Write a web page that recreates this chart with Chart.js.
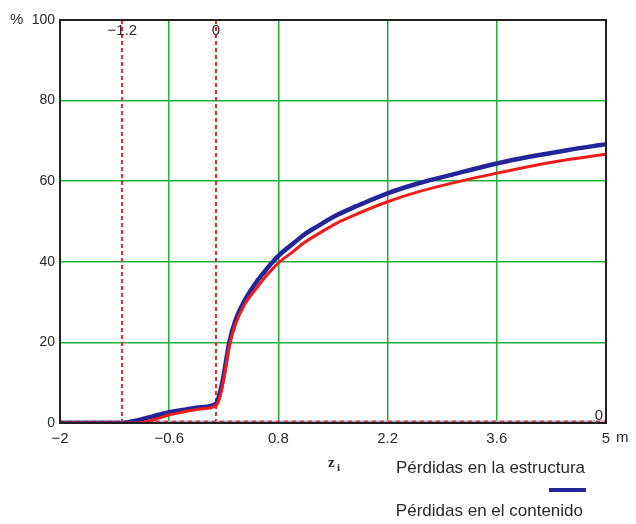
<!DOCTYPE html>
<html>
<head>
<meta charset="utf-8">
<script src="https://cdn.jsdelivr.net/npm/chart.js@4.4.1/dist/chart.umd.min.js"></script>
<style>
  html, body { margin: 0; padding: 0; background: #ffffff; }
  canvas { display: block; }
</style>
</head>
<body>
<canvas id="chart" width="636" height="524"></canvas>
<script>
// Depth z_i (m) and percentage losses
const zValues        = [-2, -1.2, -1.1, -1.0, -0.9, -0.8, -0.6, -0.4, -0.2, 0.0, 0.05, 0.1, 0.17, 0.25, 0.37, 0.5, 0.6, 0.7, 0.8, 1.0, 1.12, 1.3, 1.55, 1.8, 2.2, 2.6, 3.0, 3.6, 4.0, 4.5, 5.0];
const lossStructure  = [0, 0, 0.3, 0.7, 1.2, 1.7, 2.7, 3.3, 3.9, 4.8, 7.5, 12, 20, 25.5, 30.5, 34.5, 37, 39.4, 41.5, 44.7, 46.6, 48.8, 51.6, 53.8, 57.0, 59.5, 61.5, 64.4, 66.0, 67.7, 69.2];
const lossContents   = [0, 0, 0, 0, 0.3, 0.8, 2.0, 2.8, 3.5, 4.3, 6.5, 11, 19, 24.5, 29.5, 33, 35.5, 37.7, 39.7, 42.7, 44.6, 46.8, 49.6, 51.8, 54.9, 57.4, 59.4, 62.0, 63.6, 65.3, 66.7];

const xTickValues = [-2, -0.6, 0.8, 2.2, 3.6, 5];
const yTickValues = [0, 20, 40, 60, 80, 100];

// Reference markers
const markerX = [-1.2, 0];
const markerXLabels = ['\u22121.2', '0'];
const markerY = [0];
const markerYLabels = ['0'];

const seriesNames = ['Pérdidas en la estructura', 'Pérdidas en el contenido'];
const seriesColors = ['#25259a', '#f01c1c'];

const GREEN = '#1fb03a';
const TEXT = '#2a2a2a';
const SANS = '"Liberation Sans", Arial, sans-serif';

function fmt(v) {
  const s = String(Math.round(v * 10) / 10);
  return v < 0 ? '\u2212' + s.slice(1) : s;
}

const toPoints = (ys) => zValues.map((x, i) => ({ x: x, y: ys[i] }));

const decorations = {
  id: 'decorations',
  beforeDatasetsDraw(chart) {
    const { ctx, chartArea: a, scales: { x, y } } = chart;
    ctx.save();
    // vertical dashed markers
    ctx.strokeStyle = '#ee2a2a';
    ctx.lineWidth = 2;
    ctx.setLineDash([4, 3]);
    markerX.forEach((v) => {
      const px = Math.round(x.getPixelForValue(v));
      ctx.beginPath();
      ctx.moveTo(px, a.top);
      ctx.lineTo(px, a.bottom);
      ctx.stroke();
    });
    // horizontal dashed marker
    markerY.forEach((v) => {
      const py = y.getPixelForValue(v) - 1.5;
      ctx.lineWidth = 2;
      ctx.setLineDash([4, 4]);
      ctx.strokeStyle = '#9ab4dc';
      ctx.lineDashOffset = 4;
      ctx.beginPath();
      ctx.moveTo(a.left, py);
      ctx.lineTo(a.right, py);
      ctx.stroke();
      ctx.strokeStyle = '#e83030';
      ctx.lineDashOffset = 0;
      ctx.beginPath();
      ctx.moveTo(a.left, py);
      ctx.lineTo(a.right, py);
      ctx.stroke();
    });
    ctx.restore();
  },
  afterDraw(chart) {
    const { ctx, chartArea: a, scales: { x, y } } = chart;
    ctx.save();
    // frame
    ctx.strokeStyle = '#222222';
    ctx.lineWidth = 2;
    ctx.setLineDash([]);
    ctx.strokeRect(a.left, a.top, a.right - a.left, a.bottom - a.top);

    ctx.fillStyle = TEXT;
    ctx.textBaseline = 'middle';
    // marker labels
    ctx.font = '15px ' + SANS;
    ctx.textAlign = 'center';
    markerX.forEach((v, i) => {
      ctx.fillText(markerXLabels[i], x.getPixelForValue(v), a.top + 11);
    });
    ctx.textAlign = 'right';
    markerY.forEach((v, i) => {
      ctx.fillText(markerYLabels[i], a.right - 3, y.getPixelForValue(v) - 7);
    });

    // unit labels
    ctx.textAlign = 'left';
    ctx.font = '15px ' + SANS;
    ctx.fillText('%', 10, a.top);
    ctx.fillText('m', a.right + 10, 438);

    // axis variable z_i
    ctx.font = 'bold 15px "Liberation Serif", "Times New Roman", serif';
    ctx.fillText('z', 328, 463);
    ctx.font = 'bold 11px "Liberation Serif", "Times New Roman", serif';
    ctx.fillText('i', 337, 468);

    // legend
    ctx.font = '17px ' + SANS;
    ctx.textAlign = 'right';
    ctx.fillText(seriesNames[0], 585, 468);
    ctx.fillText(seriesNames[1], 583, 511);
    ctx.strokeStyle = seriesColors[0];
    ctx.lineWidth = 4;
    ctx.beginPath();
    ctx.moveTo(549, 490);
    ctx.lineTo(586, 490);
    ctx.stroke();
    ctx.restore();
  }
};

new Chart(document.getElementById('chart'), {
  type: 'scatter',
  data: {
    datasets: [
      {
        label: seriesNames[0],
        data: toPoints(lossStructure),
        showLine: true,
        borderColor: seriesColors[0],
        borderWidth: 4.5,
        pointRadius: 0,
        cubicInterpolationMode: 'monotone',
        order: 1
      },
      {
        label: seriesNames[1],
        data: toPoints(lossContents),
        showLine: true,
        borderColor: seriesColors[1],
        borderWidth: 3,
        pointRadius: 0,
        cubicInterpolationMode: 'monotone',
        order: 0
      }
    ]
  },
  options: {
    responsive: false,
    animation: false,
    devicePixelRatio: 1,
    layout: { padding: { left: 0, right: 30, top: 20, bottom: 71 } },
    plugins: { legend: { display: false }, tooltip: { enabled: false } },
    scales: {
      x: {
        type: 'linear',
        min: -2,
        max: 5,
        afterBuildTicks(scale) { scale.ticks = xTickValues.map((v) => ({ value: v })); },
        afterFit(scale) { scale.height = 30; },
        ticks: {
          color: TEXT,
          padding: 7,
          maxRotation: 0,
          font: { family: SANS, size: 15 },
          callback: (v) => fmt(v)
        },
        grid: { color: GREEN, lineWidth: 1.5, drawTicks: false },
        border: { display: false }
      },
      y: {
        type: 'linear',
        min: 0,
        max: 100,
        afterBuildTicks(scale) { scale.ticks = yTickValues.map((v) => ({ value: v })); },
        afterFit(scale) { scale.width = 60; },
        ticks: {
          color: TEXT,
          padding: 5,
          font: { family: SANS, size: 14 },
          callback: (v) => fmt(v)
        },
        grid: { color: GREEN, lineWidth: 1.5, drawTicks: false },
        border: { display: false }
      }
    }
  },
  plugins: [decorations]
});
</script>
</body>
</html>
